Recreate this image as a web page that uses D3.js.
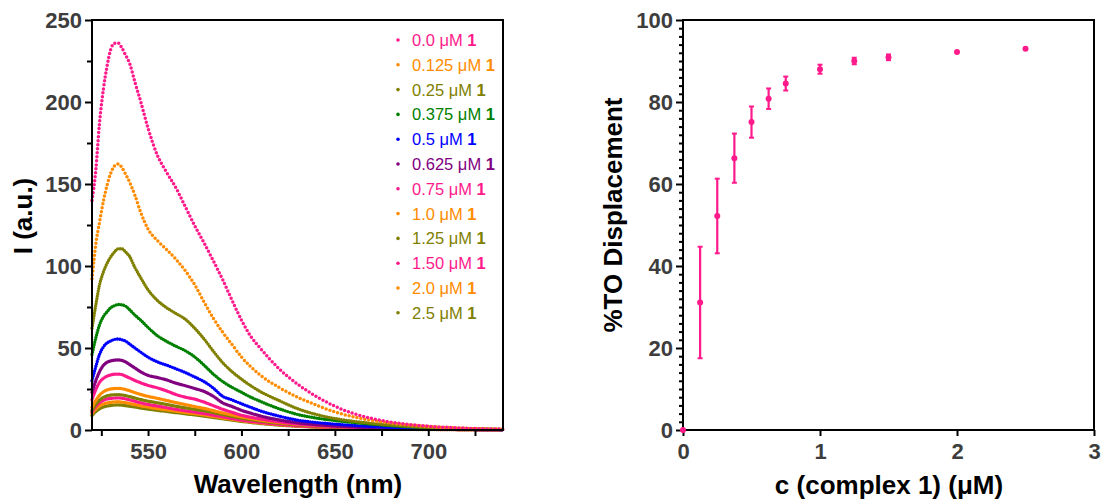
<!DOCTYPE html>
<html>
<head>
<meta charset="utf-8">
<style>
body { margin: 0; background: #fff; }
svg { display: block; font-family: "Liberation Sans", Arial, sans-serif; }
</style>
</head>
<body>
<div id="chart"></div>
<script src="https://cdnjs.cloudflare.com/ajax/libs/d3/7.8.5/d3.min.js"></script>
<script>
// emission spectra
var wavelengths = [520,522,524,526,528,530,532,534,536,538,540,543,546,550,555,560,565,570,575,580,585,590,595,600,605,610,620,630,640,650,660,670,680,690,700,710,720,730,740];

var labels = ["0.0","0.125","0.25","0.375","0.5","0.625","0.75","1.0","1.25","1.50","2.0","2.5"];
var colors = ["#ff1a8c","#ff8c00","#808000","#008000","#0000ff","#800080","#ff1a8c","#ff8c00","#808000","#ff1a8c","#ff8c00","#808000"];

var s00  = [140,158,187,207,221.5,232,235.8,236,233,228.5,224,212,200.5,184,167.5,157,147.5,136,124.5,114,103,91.5,79,67,57,50,37.5,28,20.5,14.5,10,7,4.8,3.3,2.3,1.6,1.1,0.7,0.5];
var s0125 = [92,113,126.5,139,149,156.5,161,162.2,160,156,151.5,143,133,122.5,115.5,110,104,97,88.5,78,68,59.5,52,44.5,38.5,33.5,26,20,15.2,11,8,5.8,4.2,3,2.2,1.5,1,0.7,0.5];
var s025  = [62,76,88.4,96,101.5,105.5,108.5,110.5,110.5,108.5,106,99,93,85.5,79,74.5,71,67.5,62,55.5,48,41,35.5,31,27,23.5,18,13,9.5,7,5.3,4,3,2.2,1.6,1.1,0.8,0.5,0.4];
var s0375 = [46,56,64,69,72,74.5,75.8,76.5,76.3,75.5,73.5,70,67,62.5,57.5,54,51,48.3,44.5,39.5,34,29.5,26,23,20,17.5,13,9.5,7.3,5.8,4.6,3.5,2.6,1.9,1.4,1,0.7,0.5,0.3];
var s05   = [30,38.5,46,50.5,53,54.3,55.2,55.5,55,54.2,52.5,50,47.5,44.4,41.5,39.5,37.3,35,32.3,29.5,25.5,20.5,18.3,16,13.8,11.7,8.5,6,4.6,3.6,2.8,2.1,1.6,1.2,0.9,0.6,0.4,0.3,0.2];
var s0625 = [23,30,35.5,39.3,41.2,42.1,42.6,42.7,42.4,41.5,40,37.8,35.5,33.3,32,30.5,28.5,27,25.3,23.5,20.5,16.5,14.3,12,10.2,8.6,6.2,4.4,3.3,2.5,1.9,1.4,1.1,0.8,0.6,0.4,0.3,0.2,0.2];
var s075  = [18.5,24.5,29,31.4,32.8,33.6,34,34.1,33.8,32.8,31.8,30.2,28.8,27.2,25.7,23.8,21.6,20,18.8,17,14.8,12.6,10.8,9,7.8,6.8,5,3.7,2.8,2.1,1.6,1.2,0.9,0.7,0.5,0.4,0.3,0.2,0.2];
var s10   = [13.8,18,21.2,23.2,24.4,25,25.3,25.4,25.2,24.7,24,22.8,21.7,20.5,19.3,18,16.7,15.5,14.3,13.2,11.8,10.4,9.2,8,7,6.1,4.6,3.5,2.7,2.1,1.6,1.2,0.9,0.7,0.5,0.4,0.3,0.2,0.2];
var s125  = [12,15.5,18.2,19.8,20.8,21.3,21.5,21.6,21.4,21,20.4,19.5,18.6,17.6,16.6,15.6,14.5,13.5,12.6,11.7,10.6,9.4,8.3,7.2,6.3,5.5,4.2,3.2,2.4,1.8,1.4,1.1,0.8,0.6,0.5,0.4,0.3,0.2,0.2];
var s150  = [11,14.3,16.6,18,18.9,19.3,19.5,19.6,19.4,19,18.4,17.5,16.6,15.6,14.6,13.6,12.6,11.7,10.9,10,9,8,7,6.1,5.3,4.6,3.5,2.6,2,1.5,1.2,0.9,0.7,0.5,0.4,0.3,0.3,0.2,0.2];
var s20   = [10,12.8,14.7,15.8,16.5,16.9,17.1,17.2,17,16.7,16.2,15.5,14.8,14,13.1,12.3,11.5,10.7,10,9.2,8.3,7.4,6.5,5.7,5,4.3,3.3,2.5,1.9,1.4,1.1,0.8,0.6,0.5,0.4,0.3,0.2,0.2,0.1];
var s25   = [8.8,11.2,12.9,14,14.6,15,15.2,15.3,15.2,14.9,14.5,14,13.4,12.7,12,11.3,10.6,9.9,9.2,8.5,7.7,6.9,6.1,5.3,4.6,4,3,2.3,1.7,1.3,1,0.8,0.6,0.4,0.3,0.3,0.2,0.2,0.1];
var spectra = [s00,s0125,s025,s0375,s05,s0625,s075,s10,s125,s150,s20,s25];

// displacement titration
var complexConc = [0,0.125,0.25,0.375,0.5,0.625,0.75,1.0,1.25,1.5,2.0,2.5];
var displacement = [0,31.1,52.2,66.3,75.1,80.8,84.5,88.0,90.0,90.9,92.2,93.0];
var displacementErr = [0,13.6,9.1,6.0,3.8,2.5,1.7,1.1,0.8,0.7,0,0];

var width = 1102, height = 502;
var svg = d3.select("#chart").append("svg")
  .attr("width", width)
  .attr("height", height);

var tickColor = "#3d3d3d";

function styleAxis(g) {
  g.selectAll(".domain").remove();
  g.selectAll(".tick line").attr("stroke", "#000").attr("stroke-width", 2);
  g.selectAll(".tick text")
    .attr("fill", tickColor)
    .style("font-size", "22px")
    .style("font-weight", "bold");
}

// ---------- left: spectra ----------
var x1 = d3.scaleLinear().domain([520, 740]).range([92, 503]);
var y1 = d3.scaleLinear().domain([0, 250]).range([430, 20]);

var left = svg.append("g");

var line = d3.line()
  .x(function(d) { return x1(d[0]); })
  .y(function(d) { return y1(d[1]); })
  .curve(d3.curveMonotoneX);

// draw weakest first so the strong curves sit on top
for (var i = spectra.length - 1; i >= 0; i--) {
  var pts = wavelengths.map(function(w, j) { return [w, spectra[i][j]]; });
  left.append("path")
    .attr("d", line(pts))
    .attr("fill", "none")
    .attr("stroke", colors[i])
    .attr("stroke-width", i < 2 ? 3.5 : 3.4)
    .attr("stroke-linecap", "round")
    .attr("stroke-dasharray", i < 2 ? "0,4" : (i < 5 ? "0,2.5" : "0,1.8"));
}

// axes
left.append("g")
  .attr("transform", "translate(0,430)")
  .call(d3.axisBottom(x1).tickValues([525,575,625,675,725]).tickSize(6).tickFormat(""))
  .call(styleAxis);
left.append("g")
  .attr("transform", "translate(0,430)")
  .call(d3.axisBottom(x1).tickValues([550,600,650,700]).tickSize(6).tickPadding(7).tickFormat(d3.format("d")))
  .call(styleAxis);
left.append("g")
  .attr("transform", "translate(92,0)")
  .call(d3.axisLeft(y1).tickValues([25,75,125,175,225]).tickSize(5).tickFormat(""))
  .call(styleAxis);
left.append("g")
  .attr("transform", "translate(92,0)")
  .call(d3.axisLeft(y1).tickValues([0,50,100,150,200,250]).tickSize(7).tickPadding(3).tickFormat(d3.format("d")))
  .call(styleAxis);

left.append("rect")
  .attr("x", 92).attr("y", 20)
  .attr("width", 503 - 92).attr("height", 410)
  .attr("fill", "none").attr("stroke", "#000").attr("stroke-width", 2);

// legend
labels.forEach(function(lab, i) {
  var ly = 40 + i * 24.8;
  left.append("circle")
    .attr("cx", 398).attr("cy", ly)
    .attr("r", 1.8).attr("fill", colors[i]);
  var t = left.append("text")
    .attr("x", 412).attr("y", ly).attr("dy", "0.36em")
    .attr("fill", colors[i])
    .style("font-size", "16.5px");
  t.append("tspan").text(lab + " \u03bcM ");
  t.append("tspan").style("font-weight", "bold").text("1");
});

left.append("text")
  .attr("x", 298).attr("y", 493)
  .attr("text-anchor", "middle")
  .style("font-size", "26px").style("font-weight", "bold")
  .text("Wavelength (nm)");
left.append("text")
  .attr("transform", "translate(32,216) rotate(-90)")
  .attr("text-anchor", "middle")
  .style("font-size", "26px").style("font-weight", "bold")
  .text("I (a.u.)");

// ---------- right: displacement ----------
var x2 = d3.scaleLinear().domain([0, 3]).range([683, 1094]);
var y2 = d3.scaleLinear().domain([0, 100]).range([430, 20]);
var right = svg.append("g");

right.append("g")
  .attr("transform", "translate(0,430)")
  .call(d3.axisBottom(x2).tickValues([0,1,2,3]).tickSize(6).tickPadding(7).tickFormat(d3.format("d")))
  .call(styleAxis);
right.append("g")
  .attr("transform", "translate(683,0)")
  .call(d3.axisLeft(y2).tickValues(d3.range(2, 100, 2).filter(function(v) { return v % 20 !== 0; })).tickSize(4).tickFormat(""))
  .call(styleAxis);
right.append("g")
  .attr("transform", "translate(683,0)")
  .call(d3.axisLeft(y2).tickValues([0,20,40,60,80,100]).tickSize(7).tickPadding(3).tickFormat(d3.format("d")))
  .call(styleAxis);

right.append("rect")
  .attr("x", 683).attr("y", 20)
  .attr("width", 1094 - 683).attr("height", 410)
  .attr("fill", "none").attr("stroke", "#000").attr("stroke-width", 2);

var pink = "#ff1a8c";
var bars = right.append("g").selectAll("g").data(complexConc)
  .enter().append("g")
  .filter(function(d, i) { return displacementErr[i] > 0; });
bars.append("line")
  .attr("x1", function(d) { return x2(d); })
  .attr("x2", function(d) { return x2(d); })
  .attr("y1", function(d) { var i = complexConc.indexOf(d); return y2(displacement[i] - displacementErr[i]); })
  .attr("y2", function(d) { var i = complexConc.indexOf(d); return y2(displacement[i] + displacementErr[i]); })
  .attr("stroke", pink).attr("stroke-width", 2.2);
[-1, 1].forEach(function(sgn) {
  bars.append("line")
    .attr("x1", function(d) { return x2(d) - 2.5; })
    .attr("x2", function(d) { return x2(d) + 2.5; })
    .attr("y1", function(d) { var i = complexConc.indexOf(d); return y2(displacement[i] + sgn * displacementErr[i]); })
    .attr("y2", function(d) { var i = complexConc.indexOf(d); return y2(displacement[i] + sgn * displacementErr[i]); })
    .attr("stroke", pink).attr("stroke-width", 2);
});

right.append("g").selectAll("circle").data(complexConc)
  .enter().append("circle")
  .attr("cx", function(d) { return x2(d); })
  .attr("cy", function(d, i) { return y2(displacement[i]); })
  .attr("r", 3)
  .attr("fill", pink);

right.append("text")
  .attr("x", 889).attr("y", 494)
  .attr("text-anchor", "middle")
  .style("font-size", "26px").style("font-weight", "bold")
  .text("c (complex 1) (\u03bcM)");
right.append("text")
  .attr("transform", "translate(622,215) rotate(-90)")
  .attr("text-anchor", "middle")
  .style("font-size", "26px").style("font-weight", "bold")
  .text("%TO Displacement");
</script>
</body>
</html>
